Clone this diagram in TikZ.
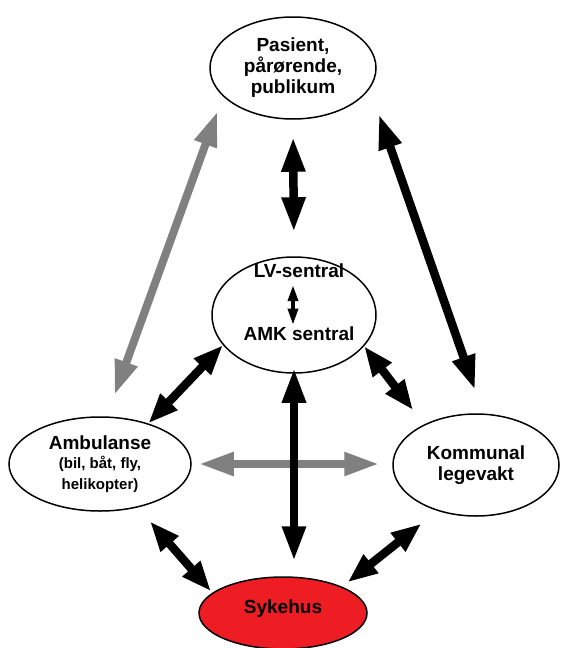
\documentclass[tikz,border=0pt]{standalone}
\usepackage{fontspec}
\setmainfont{Liberation Sans}
\usetikzlibrary{positioning,arrows.meta,shapes.geometric}
\definecolor{hospital}{HTML}{EE1D23}
\newcommand\smalltext{\fontsize{15}{18}\selectfont}

\begin{document}
\begin{tikzpicture}[x=1pt, y=1pt,
    every node/.style={font=\bfseries\fontsize{19}{21}\selectfont},
    unit/.style={ellipse, draw, line width=1.5pt},
    link/.style={line width=8.5pt, {Triangle[length=35pt,width=22pt]}-{Triangle[length=35pt,width=22pt]}},
    shortlink/.style={link, {Triangle[length=30pt,width=22pt]}-{Triangle[length=30pt,width=22pt]}},
    greylink/.style={link, draw=gray, line width=8pt},
    innerlink/.style={line width=3.5pt, {Triangle[length=16pt,width=10pt]}-{Triangle[length=16pt,width=10pt]}}]

    \useasboundingbox (0,0) rectangle (560,-648);
    \clip (0,0) rectangle (560,-648);

    \node[unit, align=center, minimum width=166pt, minimum height=102pt] (pasient) at (293,-68) {Pasient,\\pårørende,\\publikum};
    \node[unit, minimum width=164pt, minimum height=116pt] (sentral) at (294,-315) {};
    \node[inner sep=0pt] (lv) at (299,-271) {LV-sentral};
    \node[inner sep=0pt, below=48pt of lv] (amk) {AMK sentral};
    \node[unit, align=center, minimum width=182pt, minimum height=94pt] (ambulanse) at (100,-464) {Ambulanse\\[-2pt]{\smalltext (bil, båt, fly,}\\{\smalltext helikopter)}};
    \node[unit, align=center, minimum width=166pt, minimum height=102pt] (legevakt) at (476,-465) {Kommunal\\legevakt};
    \node[unit, fill=hospital, minimum width=168pt, minimum height=72pt, text depth=13.5pt] (sykehus) at (283,-613) {Sykehus};

    \draw[innerlink, shorten <=7pt, shorten >=1.5pt] ([xshift=-6pt]lv.south) -- ([xshift=-6pt]amk.north);

    \draw[greylink, shorten <=22.5pt, shorten >=16pt] (ambulanse.82.6) -- (pasient.202);
    \draw[link, shorten <=17pt, shorten >=24pt] (pasient.south) -- (sentral.north);
    \draw[link, shorten <=27pt, shorten >=24.5pt] (pasient.-15) -- (legevakt.82);
    \draw[shortlink] (sentral.203.7) -- (ambulanse.40);
    \draw[shortlink, shorten >=18pt] (sentral.-24.4) -- (legevakt.142.8);
    \draw[greylink, shorten <=7pt, shorten >=13pt] (ambulanse.0) -- (ambulanse.0 -| legevakt.west);
    \draw[link, shorten <=-6pt, shorten >=15pt] (sentral.south) -- (sentral.south |- sykehus.north);
    \draw[shortlink, shorten <=18.5pt, shorten >=2pt] (ambulanse.-49.2) -- (sykehus.164);
    \draw[shortlink, shorten <=20.5pt, shorten >=7pt] (legevakt.230.1) -- (sykehus.24.5);
\end{tikzpicture}
\end{document}
